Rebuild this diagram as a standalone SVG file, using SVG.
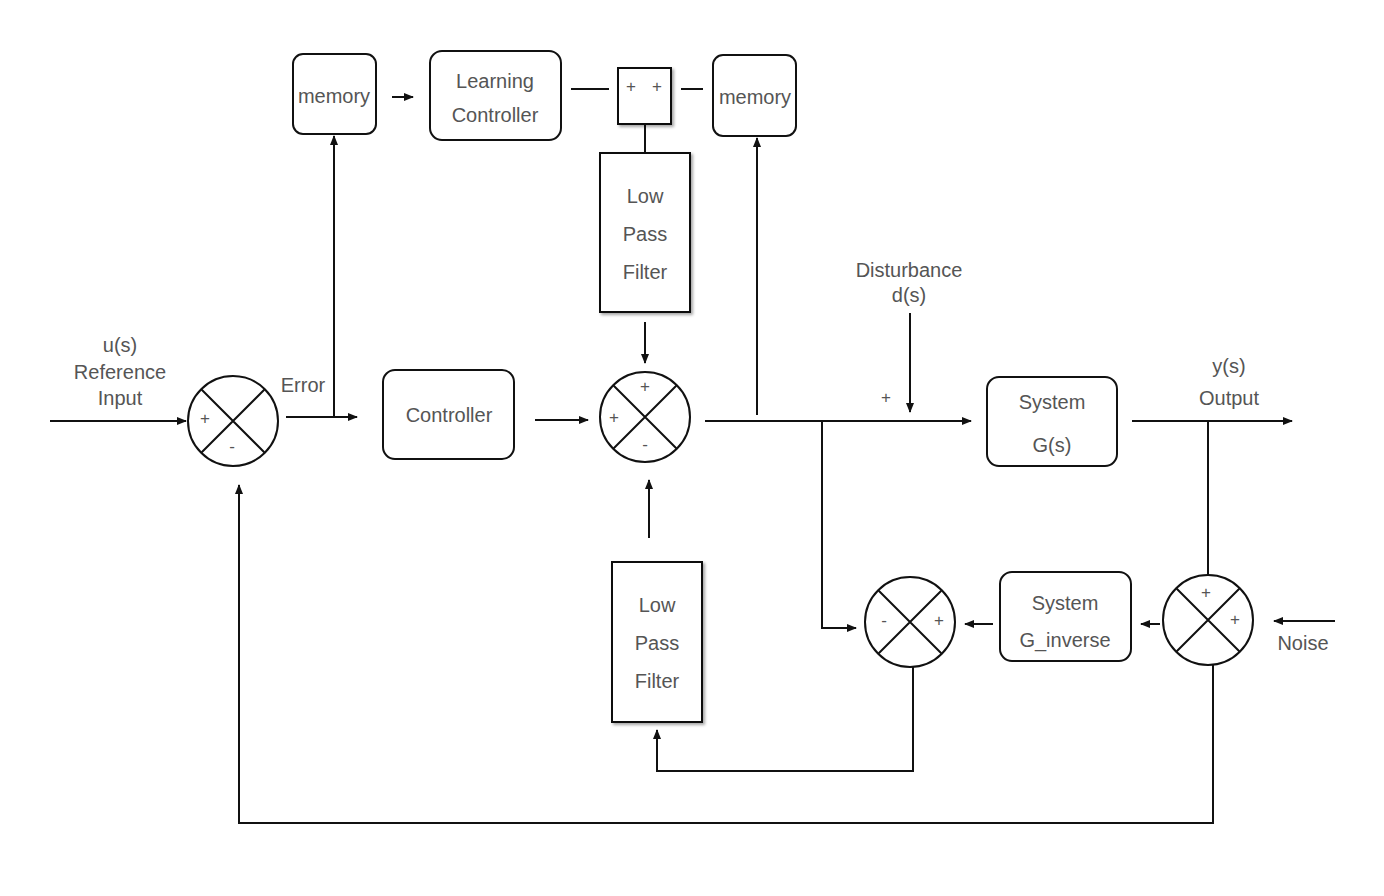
<svg xmlns="http://www.w3.org/2000/svg" width="1384" height="896" viewBox="0 0 1384 896">
<style>
text{font-family:"Helvetica","Liberation Sans",Arial,sans-serif;font-size:20px;fill:#555;text-anchor:middle}
.s{font-size:17px}
.b{fill:#fff;stroke:#111;stroke-width:2}
.c line,.c path{stroke:#111;stroke-width:2;fill:none}
.x{stroke:#111;stroke-width:2}
</style>
<defs>
<marker id="a" markerWidth="10" markerHeight="8" refX="9" refY="4" orient="auto" markerUnits="userSpaceOnUse"><path d="M0,0L10,4L0,8z" fill="#111"/></marker>
<filter id="sh"><feDropShadow dx="2" dy="2" stdDeviation="1.5" flood-opacity="0.35"/></filter>
</defs>
<rect width="1384" height="896" fill="#fff"/>
<g class="c">
<line x1="50" y1="421" x2="186" y2="421" marker-end="url(#a)"/>
<line x1="286" y1="417" x2="357" y2="417" marker-end="url(#a)"/>
<line x1="334" y1="417" x2="334" y2="136" marker-end="url(#a)"/>
<line x1="392" y1="97" x2="413" y2="97" marker-end="url(#a)"/>
<line x1="571" y1="89" x2="609" y2="89"/>
<line x1="681" y1="89" x2="703" y2="89"/>
<line x1="645" y1="124" x2="645" y2="153"/>
<line x1="645" y1="322" x2="645" y2="363" marker-end="url(#a)"/>
<line x1="535" y1="420" x2="588" y2="420" marker-end="url(#a)"/>
<line x1="705" y1="421" x2="971" y2="421" marker-end="url(#a)"/>
<line x1="757" y1="415" x2="757" y2="138" marker-end="url(#a)"/>
<line x1="910" y1="313" x2="910" y2="412" marker-end="url(#a)"/>
<line x1="1132" y1="421" x2="1292" y2="421" marker-end="url(#a)"/>
<line x1="1208" y1="421" x2="1208" y2="575"/>
<line x1="1335" y1="621" x2="1274" y2="621" marker-end="url(#a)"/>
<line x1="1160" y1="624" x2="1141" y2="624" marker-end="url(#a)"/>
<line x1="993" y1="624" x2="965" y2="624" marker-end="url(#a)"/>
<path d="M822,421V628H856" marker-end="url(#a)"/>
<path d="M913,667V771H657V730" marker-end="url(#a)"/>
<line x1="649" y1="538" x2="649" y2="480" marker-end="url(#a)"/>
<path d="M1213,665V823H239V485" marker-end="url(#a)"/>
</g>
<g id="memory1"><rect class="b" x="293" y="54" width="83" height="80" rx="10"/><text x="334" y="103">memory</text></g>
<g id="learning"><rect class="b" x="430" y="51" width="131" height="89" rx="12"/><text x="495" y="88">Learning</text><text x="495" y="122">Controller</text></g>
<g id="sumbox"><rect class="b" x="618" y="68" width="53" height="56" filter="url(#sh)"/><text class="s" x="631" y="92">+</text><text class="s" x="657" y="92">+</text></g>
<g id="memory2"><rect class="b" x="713" y="55" width="83" height="81" rx="10"/><text x="755" y="104">memory</text></g>
<g id="lpf1"><rect class="b" x="600" y="153" width="90" height="159" filter="url(#sh)"/><text x="645" y="203">Low</text><text x="645" y="241">Pass</text><text x="645" y="279">Filter</text></g>
<g id="controller"><rect class="b" x="383" y="370" width="131" height="89" rx="12"/><text x="449" y="422">Controller</text></g>
<g id="system"><rect class="b" x="987" y="377" width="130" height="89" rx="12"/><text x="1052" y="409">System</text><text x="1052" y="452">G(s)</text></g>
<g id="lpf2"><rect class="b" x="612" y="562" width="90" height="160" filter="url(#sh)"/><text x="657" y="612">Low</text><text x="657" y="650">Pass</text><text x="657" y="688">Filter</text></g>
<g id="ginv"><rect class="b" x="1000" y="572" width="131" height="89" rx="12"/><text x="1065" y="610">System</text><text x="1065" y="647">G_inverse</text></g>
<g id="s1"><circle class="b" cx="233" cy="421" r="45"/><path class="x" d="M201,389L265,453M265,389L201,453"/><text class="s" x="205" y="424">+</text><text class="s" x="232" y="452">-</text></g>
<g id="s2"><circle class="b" cx="645" cy="417" r="45"/><path class="x" d="M613,385L677,449M677,385L613,449"/><text class="s" x="645" y="392">+</text><text class="s" x="614" y="423">+</text><text class="s" x="645" y="450">-</text></g>
<g id="s3"><circle class="b" cx="910" cy="622" r="45"/><path class="x" d="M878,590L942,654M942,590L878,654"/><text class="s" x="884" y="626">-</text><text class="s" x="939" y="626">+</text></g>
<g id="s4"><circle class="b" cx="1208" cy="620" r="45"/><path class="x" d="M1176,588L1240,652M1240,588L1176,652"/><text class="s" x="1206" y="598">+</text><text class="s" x="1235" y="625">+</text></g>
<g id="labels">
<text x="120" y="352">u(s)</text><text x="120" y="379">Reference</text><text x="120" y="405">Input</text>
<text x="303" y="392">Error</text>
<text x="909" y="277">Disturbance</text><text x="909" y="302">d(s)</text>
<text class="s" x="886" y="403">+</text>
<text x="1229" y="373">y(s)</text><text x="1229" y="405">Output</text>
<text x="1303" y="650">Noise</text>
</g>
</svg>
